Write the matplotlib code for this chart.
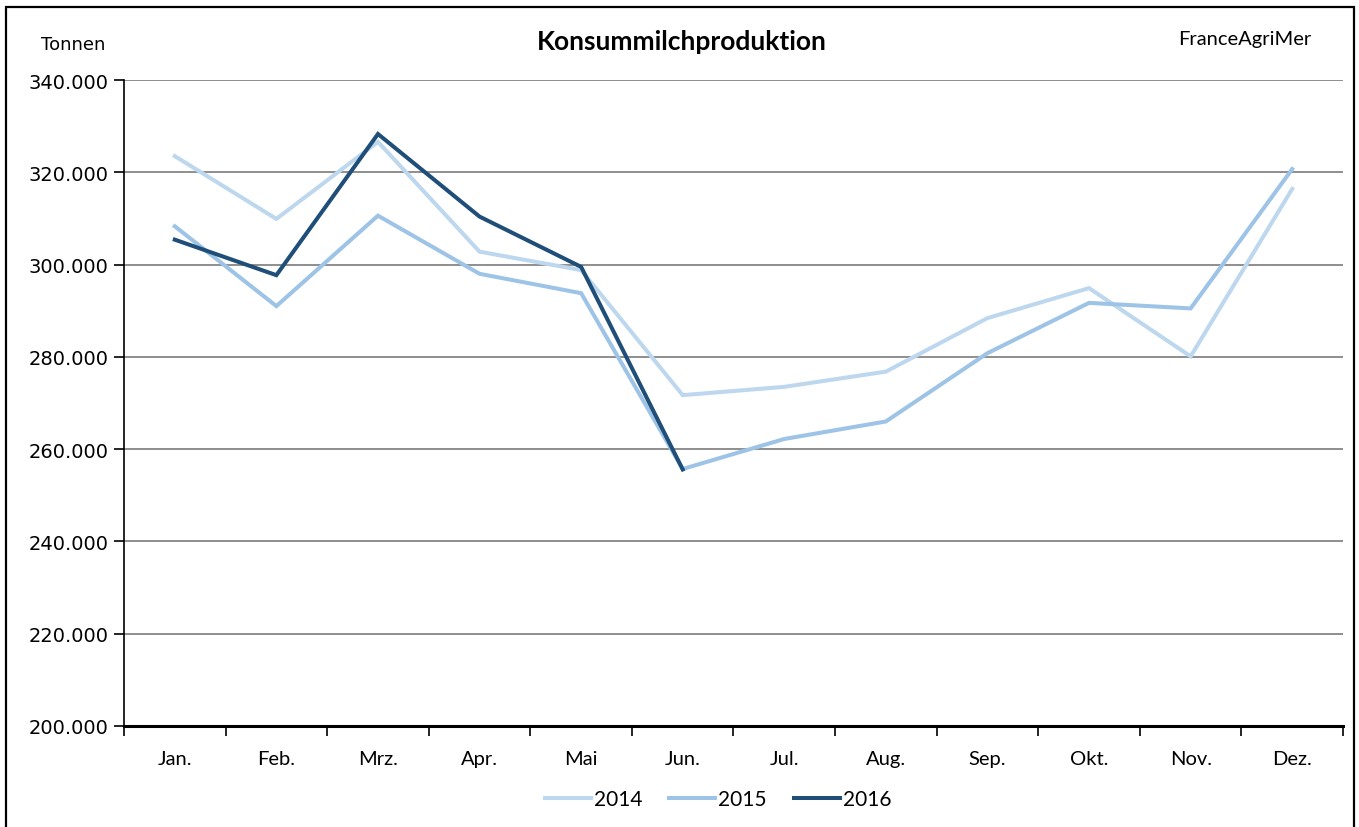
import matplotlib
matplotlib.use("Agg")
import matplotlib.pyplot as plt
from matplotlib.patches import Rectangle
from matplotlib.ticker import FuncFormatter, FixedLocator

plt.rcParams['font.family'] = ['Lato', 'DejaVu Sans']

months = ["Jan.", "Feb.", "Mrz.", "Apr.", "Mai", "Jun.", "Jul.", "Aug.",
          "Sep.", "Okt.", "Nov.", "Dez."]
years = ["2014", "2015", "2016"]
val_2014 = [323500, 309900, 326600, 302800, 298800, 271700, 273500, 276800,
            288400, 294900, 280100, 316400]
val_2015 = [308300, 291000, 310600, 298000, 293800, 255700, 262200, 266000,
            280800, 291700, 290500, 320700]
val_2016 = [305400, 297700, 328300, 310400, 299500, 255600]
colors = ["#BDD7EE", "#9DC3E6", "#1F4E79"]

W, H = 1359, 828
fig = plt.figure(figsize=(W / 100, H / 100), dpi=100)
ax = fig.add_axes([124 / W, 1 - 727 / H, (1343 - 124) / W, (727 - 81) / H])

x = list(range(len(months)))
for vals, name, col in zip([val_2014, val_2015, val_2016], years, colors):
    ax.plot(x[:len(vals)], vals, color=col, lw=2.9, label=name,
            solid_joinstyle="miter", zorder=3)

ax.set_xlim(-0.5, len(months) - 0.5)
ax.set_ylim(200000, 340000)
ax.set_yticks(range(200000, 340001, 20000))
ax.yaxis.set_major_formatter(FuncFormatter(lambda v, p: f"{int(v):,}".replace(",", ".")))
ax.grid(axis="y", color="#868686", lw=1.3, zorder=1)
ax.set_axisbelow(True)

ax.set_xticks(x)
ax.set_xticklabels(months)
ax.xaxis.set_minor_locator(FixedLocator([i - 0.5 for i in range(len(months) + 1)]))
ax.tick_params(axis="x", which="major", length=0, pad=17, labelsize=14.5)
ax.tick_params(axis="x", which="minor", length=7, width=1.2, direction="out")
ax.tick_params(axis="y", length=7, width=1.2, direction="out", labelsize=14, pad=4)
for lab in ax.get_yticklabels():
    lab.set_family("DejaVu Sans")

for s in ["top", "right"]:
    ax.spines[s].set_visible(False)
ax.spines["left"].set_linewidth(1.2)
ax.spines["bottom"].set_linewidth(2.2)

fig.text(682 / W, 1 - 42 / H, "Konsummilchproduktion", ha="center", va="center",
         fontsize=19, fontweight="bold")
fig.text(73 / W, 1 - 45 / H, "Tonnen", ha="center", va="center", fontsize=13,
         family="DejaVu Sans")
fig.text(1245 / W, 1 - 39 / H, "FranceAgriMer", ha="center", va="center", fontsize=14.5)

fig.legend(loc="center", bbox_to_anchor=(718 / W, 1 - 800 / H), ncol=3,
           frameon=False, fontsize=15, handlelength=2.2, handletextpad=0.15,
           columnspacing=1.3)

fig.patches.append(Rectangle((6 / W, -0.02), (1354 - 6) / W, 1.02 - 8 / H,
                             transform=fig.transFigure, fill=False,
                             edgecolor="black", lw=1.6))

fig.savefig("out.png", dpi=100)
